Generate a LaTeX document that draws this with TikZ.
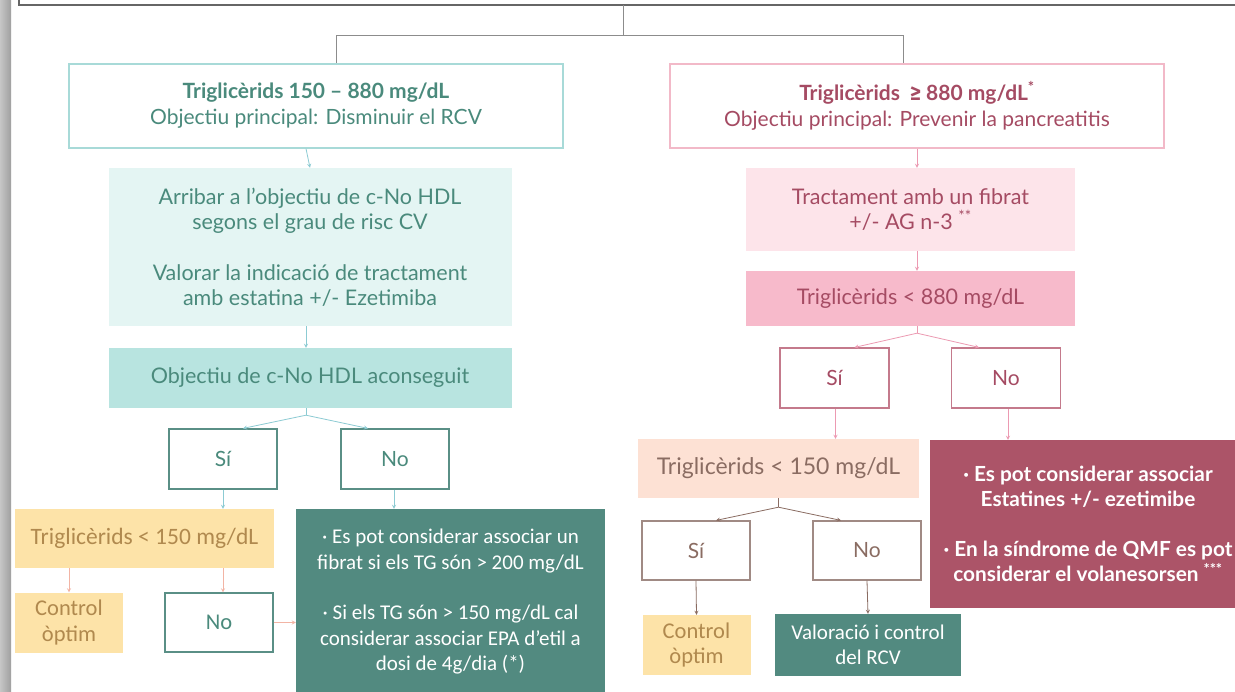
\documentclass[tikz,border=0pt]{standalone}
\usepackage{fontspec}
\setmainfont{Lato}
\newfontfamily\calibfont{Carlito}
\newfontfamily\symfont{Fira Sans}
\usetikzlibrary{positioning, arrows}

\definecolor{tealtext}{HTML}{4A8A7C}
\definecolor{tealline}{HTML}{A8DAD8}
\definecolor{tealpale}{HTML}{E4F5F3}
\definecolor{tealmid}{HTML}{B8E4E0}
\definecolor{tealdark}{HTML}{528A80}
\definecolor{tealarrow}{HTML}{8CCBD3}
\definecolor{tealborder}{HTML}{5A8F86}
\definecolor{rosetext}{HTML}{A54B63}
\definecolor{roseline}{HTML}{F2B9C8}
\definecolor{rosepale}{HTML}{FDE4EA}
\definecolor{rosemid}{HTML}{F7BACB}
\definecolor{rosearrow}{HTML}{EC9AB2}
\definecolor{roseborder}{HTML}{C47A8C}
\definecolor{rosedark}{HTML}{AC5468}
\definecolor{peach}{HTML}{FDE1D4}
\definecolor{browntext}{HTML}{8A6C62}
\definecolor{brownline}{HTML}{A08A84}
\definecolor{yellowfill}{HTML}{FDE3A8}
\definecolor{goldtext}{HTML}{B0894E}
\definecolor{salmon}{HTML}{F2B4A4}
\definecolor{framegray}{HTML}{8C8C8C}

\tikzset{
	>=stealth, % small pointed arrow heads
	box/.style={rectangle, align=center, inner sep=0pt, font=\fontsize{21.5}{25}\selectfont}, % base for every box
	tealframe/.style={box, draw=tealline, line width=1.2pt, fill=white, text=tealtext, font=\fontsize{21}{26}\selectfont}, % open teal box
	tealfill/.style={box, fill=#1, text=tealtext}, % filled teal box
	tealdec/.style={box, draw=tealborder, line width=1.2pt, fill=white, text=tealtext, minimum width=108, minimum height=60, font=\fontsize{21}{25}\selectfont}, % teal yes/no
	tealsolid/.style={box, fill=tealdark, text=white, font=\calibfont\fontsize{21}{25.5}\selectfont}, % dark teal advice
	roseframe/.style={box, draw=roseline, line width=1.2pt, fill=white, text=rosetext, font=\fontsize{21}{26}\selectfont}, % open rose box
	rosefill/.style={box, fill=#1, text=rosetext}, % filled rose box
	rosedec/.style={box, draw=roseborder, line width=1.2pt, fill=white, text=rosetext, minimum width=109, minimum height=60, font=\fontsize{21}{25}\selectfont}, % rose yes/no
	browndec/.style={box, draw=brownline, line width=1.2pt, fill=white, text=browntext, minimum width=108, minimum height=59, font=\fontsize{21}{25}\selectfont}, % brown yes/no
	optimbox/.style={box, fill=yellowfill, text=goldtext, minimum width=108, minimum height=60, font=\calibfont\fontsize{22.5}{25.5}\selectfont}, % yellow end box
	link/.style={->, line width=0.8pt, draw=#1}, % coloured connector
}

\begin{document}
\begin{tikzpicture}[x=1pt, y=-1pt]
	\useasboundingbox (0,0) rectangle (1235,692);
	\clip (0,0) rectangle (1235,692);
	\fill[white] (0,0) rectangle (1235,692);
	% page frame at the left and top
	\shade[left color=gray!45, right color=gray!75] (0,0) rectangle (11,692);
	\draw[gray!80!black, line width=1.4pt] (19,-2) -- (19,5) -- (1240,5);
	\coordinate (frametop) at (623,5);
	\coordinate (fork) at (623,35);

	% left branch
	\node[tealframe, minimum width=494, minimum height=84] (ltop) at (316,106) {\textbf{Triglicèrids 150 – 880 mg/dL}\\Objectiu principal: Disminuir el RCV};
	\node[tealfill=tealpale, minimum width=403, minimum height=158] (lgoal) at (310,247) {Arribar a l’objectiu de c-No HDL\\segons el grau de risc CV\\[26pt]Valorar la indicació de tractament\\amb estatina +/- Ezetimiba};
	\node[tealfill=tealmid, minimum width=403, minimum height=60] (lhdl) at (310,378) {Objectiu de c-No HDL aconseguit};
	\node[tealdec] (lsi) at (223,459) {Sí};
	\node[tealdec] (lno) at (395,459) {No};
	\node[box, fill=yellowfill, text=goldtext, minimum width=259, minimum height=59, font=\calibfont\fontsize{23.5}{25}\selectfont] (ltg) at (144.5,538.5) {Triglicèrids < 150 mg/dL};
	\node[optimbox] (lopt) at (69,622.5) {Control\\òptim};
	\node[tealdec, minimum height=59, font=\calibfont\fontsize{22.5}{25}\selectfont] (lno2) at (219,622.5) {No};
	\node[tealsolid, minimum width=309, minimum height=186] (lfib) at (450.5,602) {· Es pot considerar associar un\\fibrat si els TG són > 200 mg/dL\\[25pt]· Si els TG són > 150 mg/dL cal\\considerar associar EPA d’etil a\\dosi de 4g/dia (*)};

	% right branch
	\node[roseframe, minimum width=494, minimum height=84] (rtop) at (917,106) {\textbf{Triglicèrids \ {\symfont ≥} 880 mg/dL\textsuperscript{*}}\\Objectiu principal: Prevenir la pancreatitis};
	\node[rosefill=rosepale, minimum width=329, minimum height=83] (rfib) at (910.5,209.5) {Tractament amb un fibrat\\+/- AG n-3 \textsuperscript{**}};
	\node[rosefill=rosemid, minimum width=329, minimum height=55] (rtg) at (910.5,298.5) {Triglicèrids < 880 mg/dL};
	\node[rosedec] (rsi) at (834.5,378) {Sí};
	\node[rosedec] (rno) at (1006,378) {No};
	\node[box, fill=peach, text=browntext, minimum width=281, minimum height=59, font=\fontsize{23}{25}\selectfont] (rtg2) at (778.5,468.5) {Triglicèrids < 150 mg/dL};
	\node[box, fill=rosedark, text=white, minimum width=316, minimum height=168, font=\fontsize{20.8}{25}\selectfont] (rstat) at (1088,524) {\textbf{· Es pot considerar associar}\\\textbf{Estatines +/- ezetimibe}\\[25pt]\textbf{· En la síndrome de QMF es pot}\\\textbf{considerar el volanesorsen \textsuperscript{***}}};
	\node[browndec] (rsi2) at (696,550.5) {Sí};
	\node[browndec] (rno2) at (867,550.5) {No};
	\node[optimbox] (ropt) at (696.5,645) {Control\\òptim};
	\node[tealsolid, minimum width=186, minimum height=62] (rrcv) at (868,645) {Valoració i control\\del RCV};

	% top fork
	\draw[framegray, line width=0.8pt] (frametop) -- (fork) -| ([xshift=20]ltop.north)
		(fork) -| ([xshift=-14]rtop.north);

	% left connectors
	\draw[link=tealarrow] ([xshift=-10]ltop.south) -- (lgoal.north -| lhdl.north);
	\draw[link=tealarrow] ([xshift=-4]lgoal.south) -- ([xshift=-4]lhdl.north);
	\draw[tealarrow, line width=0.8pt] ([xshift=-4]lhdl.south) -- ++(0,7) coordinate (lsplit);
	\draw[link=tealarrow] (lsplit) -- ([xshift=20]lsi.north);
	\draw[link=tealarrow] (lsplit) -- ([xshift=-27]lno.north);
	\draw[link=tealarrow] (lsi.south) -- (lsi.south |- ltg.north);
	\draw[link=tealarrow] ([xshift=-1]lno.south) -- ([xshift=-1]lno.south |- lfib.north);
	\draw[link=salmon] (lopt.north |- ltg.south) -- (lopt.north);
	\draw[link=salmon] ([xshift=4]lno2.north |- ltg.south) -- ([xshift=4]lno2.north);
	\draw[link=salmon] (lno2.east) -- (lno2.east -| lfib.west);

	% right connectors
	\draw[link=rosearrow] (rtop.south) -- (rtop.south |- rfib.north);
	\draw[link=rosearrow] (rtop.south |- rfib.south) -- (rtop.south |- rtg.north);
	\draw[rosearrow, line width=0.8pt] (rtop.south |- rtg.south) -- ++(0,7) coordinate (rsplit);
	\draw[link=rosearrow] (rsplit) -- ([xshift=20]rsi.north);
	\draw[link=rosearrow] (rsplit) -- ([xshift=-27]rno.north);
	\draw[link=rosearrow] ([xshift=1]rsi.south) -- ([xshift=1]rsi.south |- rtg2.north);
	\draw[link=rosearrow] ([xshift=2]rno.south) -- ([xshift=2]rno.south |- rstat.north);
	\draw[browntext, line width=0.8pt] (rtg2.south) -- ++(0,9) coordinate (rsplit2);
	\draw[link=browntext] (rsplit2) -- ([xshift=20]rsi2.north);
	\draw[link=browntext] (rsplit2) -- ([xshift=-26]rno2.north);
	\draw[link=browntext] (rsi2.south) -- (ropt.north);
	\draw[link=browntext] (rno2.south) -- (rrcv.north);
\end{tikzpicture}
\end{document}
